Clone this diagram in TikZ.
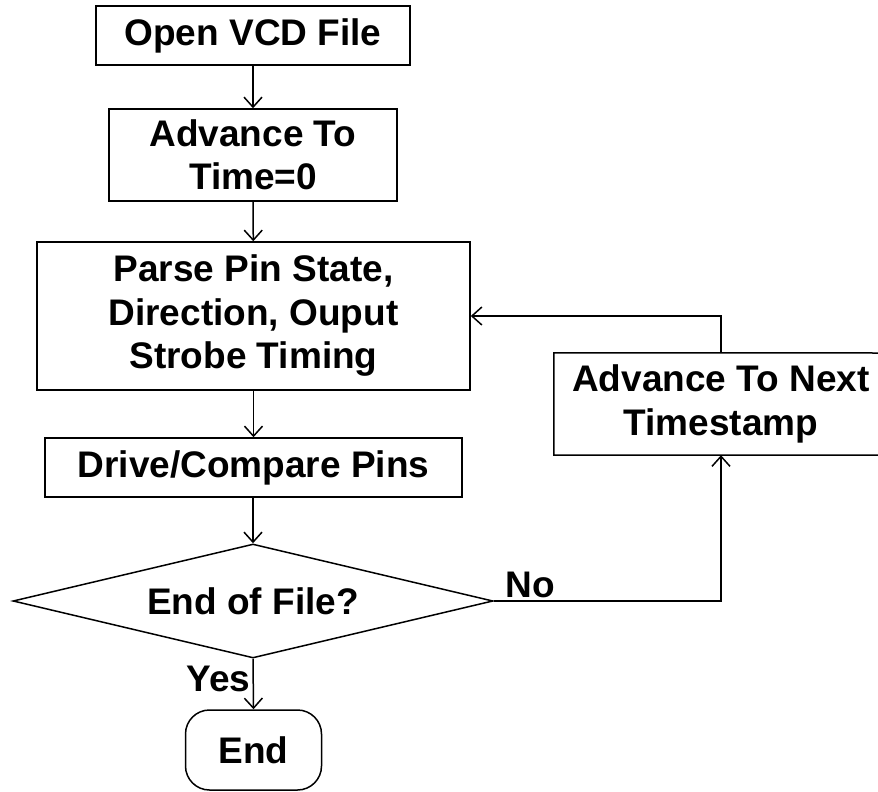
\documentclass[tikz,border=0pt]{standalone}
\usepackage{fontspec}
\setmainfont{Liberation Sans}
\usetikzlibrary{shapes.geometric,arrows.meta}
\begin{document}
\begin{tikzpicture}[x=1pt,y=-1pt,
  every node/.style={font=\fontsize{37}{43.5}\selectfont\bfseries, align=center, inner sep=0pt},
  box/.style={draw, line width=1.5pt, rectangle},
  decision/.style={draw, line width=1.5pt, diamond, aspect=4.2},
  terminal/.style={draw, line width=1.5pt, rectangle, rounded corners=24pt},
  arr/.style={line width=1.5pt, -{Straight Barb[length=10pt,width=18pt,line width=1.5pt]}}]
\useasboundingbox (0,0) rectangle (878,792);
\node[box, minimum width=314pt, minimum height=59pt] (open) at (253,35.5) {Open VCD File};
\node[box, minimum width=288pt, minimum height=92pt] (adv) at (253,155) {Advance To\\Time=0};
\node[box, minimum width=433pt, minimum height=148pt] (parse) at (253.5,316) {Parse Pin State,\\Direction, Ouput\\Strobe Timing};
\node[box, minimum width=417pt, minimum height=59pt] (drive) at (253.5,467.5) {Drive/Compare Pins};
\node[decision, minimum width=480pt, minimum height=114pt] (eof) at (253,601) {End of File?};
\node[terminal, minimum width=136pt, minimum height=80pt] (end) at (253.5,750) {End};
\node[minimum width=334pt, minimum height=102pt] (ts) at (721,404) {Advance To Next\\Timestamp};
\coordinate (edgeT) at (878,353);
\coordinate (edgeB) at (878,455);
\draw[line width=1.5pt] (edgeT) -- (ts.north west) -- (ts.south west) -- (edgeB);
\draw[arr] (open.south -| adv.north) -- (adv.north);
\draw[arr] (adv) -- (parse);
\draw[arr] (parse.south -| drive.north) -- (drive.north);
\draw[arr] (drive.south -| eof.north) -- (eof.north);
\draw[arr] (eof.south) -- (end.north) node[pos=0.4, anchor=east, inner sep=2pt] {Yes};
\draw[arr] (eof.east) -| (ts.south) node[pos=0.08, anchor=south, yshift=2pt] {No};
\draw[arr] (ts.north) |- (parse.east);
\end{tikzpicture}
\end{document}
